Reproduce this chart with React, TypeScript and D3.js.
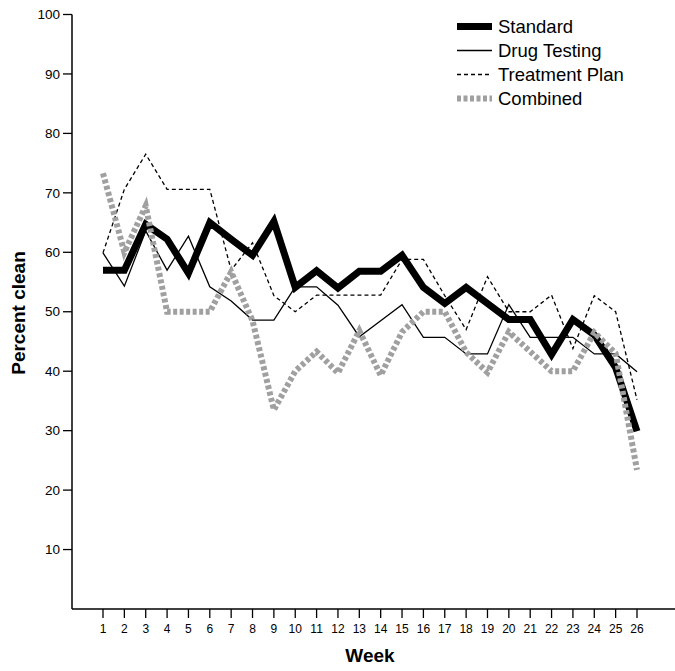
import React from "react";
import * as d3 from "d3";

const weeks = d3.range(1, 27);
const standard = [57, 57, 64.7, 62.2, 56.5, 65, 62.2, 59.5, 65.2, 54.1, 56.9, 54, 56.8, 56.8, 59.5, 54.1, 51.4, 54.1, 51.4, 48.7, 48.7, 42.8, 48.7, 46.1, 40.6, 29.9];
const drugTesting = [59.9, 54.3, 63.6, 57, 62.7, 54.2, 51.8, 48.6, 48.6, 54.2, 54.2, 51.1, 45.8, 48.5, 51.2, 45.7, 45.7, 42.9, 42.9, 51.2, 45.7, 45.7, 45.7, 42.9, 42.9, 39.9];
const treatmentPlan = [59.9, 70.6, 76.5, 70.6, 70.6, 70.6, 57, 61.6, 52.7, 50, 52.8, 52.8, 52.8, 52.8, 58.8, 58.8, 52.7, 47, 55.9, 50, 50, 52.8, 43.8, 52.7, 50, 35.2];
const combined = [73.3, 60, 67.8, 50, 50, 50, 56.7, 48.5, 33.5, 40, 43.3, 39.7, 46.8, 39.3, 46.6, 50, 50, 43.2, 39.8, 46.6, 43.3, 40, 40, 46.5, 43, 23.4];

const yTicks = [10, 20, 30, 40, 50, 60, 70, 80, 90, 100];

const seriesNames = ["Standard", "Drug Testing", "Treatment Plan", "Combined"];
const seriesData = [standard, drugTesting, treatmentPlan, combined];
const seriesStyle = [
  { stroke: "#000", width: 7, dash: "none" },
  { stroke: "#000", width: 1.3, dash: "none" },
  { stroke: "#000", width: 1.3, dash: "4 3" },
  { stroke: "#a0a0a0", width: 6, dash: "4 2.5" },
];

export default function App() {
  const W = 675, H = 671;
  const x = d3.scaleLinear().domain([1, 26]).range([103, 637]);
  const y = d3.scaleLinear().domain([0, 100]).range([609, 14.5]);
  const axisX = 72;
  const axisY = y(0);
  const font = "'Liberation Sans', Arial, Helvetica, sans-serif";
  const line = d3.line<number>().x((_, i) => x(weeks[i])).y((d) => y(d));

  return (
    <svg width={W} height={H} style={{ position: "absolute", left: 0, top: 0, background: "#fff" }} fontFamily={font}>
      <rect x={0} y={0} width={W} height={H} fill="#fff" />
      {/* y axis */}
      <line x1={axisX} x2={axisX} y1={y(100)} y2={axisY} stroke="#000" strokeWidth={1.5} />
      {yTicks.map((t) => (
        <g key={t}>
          <line x1={axisX - 9} x2={axisX} y1={y(t)} y2={y(t)} stroke="#000" strokeWidth={1.3} />
          <text x={axisX - 12} y={y(t)} dy="0.35em" textAnchor="end" fontSize={13.5}>{t}</text>
        </g>
      ))}
      {/* x axis */}
      <line x1={axisX} x2={W} y1={axisY} y2={axisY} stroke="#000" strokeWidth={1.5} />
      {weeks.map((w) => (
        <g key={w}>
          <line x1={x(w)} x2={x(w)} y1={axisY} y2={axisY + 9} stroke="#000" strokeWidth={1.3} />
          <text x={x(w)} y={axisY + 20} dy="0.35em" textAnchor="middle" fontSize={12}>{w}</text>
        </g>
      ))}
      <text x={370} y={655} dy="0.35em" textAnchor="middle" fontSize={19} fontWeight="bold">Week</text>
      <text transform={`translate(18,${313}) rotate(-90)`} dy="0.35em" textAnchor="middle" fontSize={19} fontWeight="bold">Percent clean</text>
      {/* lines */}
      {seriesData.map((d, i) => (
        <path key={i} d={line(d) || ""} fill="none" stroke={seriesStyle[i].stroke} strokeWidth={seriesStyle[i].width}
          strokeDasharray={seriesStyle[i].dash} strokeLinejoin="miter" />
      ))}
      {/* legend */}
      {seriesNames.map((n, i) => {
        const ly = 26.5 + i * 24;
        return (
          <g key={n}>
            <line x1={457} x2={492} y1={ly} y2={ly} stroke={seriesStyle[i].stroke} strokeWidth={seriesStyle[i].width}
              strokeDasharray={seriesStyle[i].dash} />
            <text x={498} y={ly} dy="0.35em" fontSize={18.5}>{n}</text>
          </g>
        );
      })}
    </svg>
  );
}
